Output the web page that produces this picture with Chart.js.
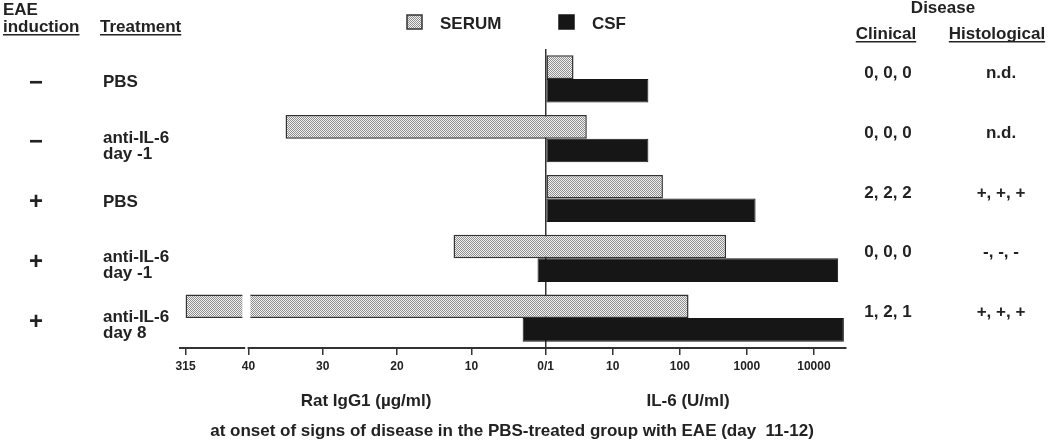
<!DOCTYPE html>
<html>
<head>
<meta charset="utf-8">
<script src="https://cdn.jsdelivr.net/npm/chart.js"></script>
<style>
  html, body { margin: 0; padding: 0; background: #fff; }
  #wrap { width: 1052px; height: 443px; position: relative; }
</style>
</head>
<body>
<div id="wrap"><canvas id="eaeChart" width="1052" height="443"></canvas></div>
<script>
    // rows, top to bottom
    const groups = ['PBS', 'anti-IL-6 day -1', 'PBS', 'anti-IL-6 day -1', 'anti-IL-6 day 8'];
    const eaeInduction = ['\u2212', '\u2212', '+', '+', '+'];
    const treatmentLines = [['PBS'], ['anti-IL-6', 'day -1'], ['PBS'], ['anti-IL-6', 'day -1'], ['anti-IL-6', 'day 8']];
    const clinical = ['0, 0, 0', '0, 0, 0', '2, 2, 2', '0, 0, 0', '1, 2, 1'];
    const histological = ['n.d.', 'n.d.', '+, +, +', '-, -, -', '+, +, +'];

    // Rat IgG1 (ug/ml) to the left, IL-6 (U/ml) to the right
    const serumIgG1 = [0, 35, 0, 12.4, 315];
    const serumIL6 = [2.6, 4.1, 56, 490, 135];
    const csfIgG1 = [0, 0, 0, 1.1, 3.1];
    const csfIL6 = [34, 34, 1350, 23000, 28000];

    const igTicks = [315, 40, 30, 20, 10];
    const il6Ticks = [1, 10, 100, 1000, 10000];

    // left half is linear with a break above 40, right half is log10
    const BREAK = 40, BREAK_TOP = 315, BREAK_SPAN = 8.45, DECADE = 9.02;
    function igPos(v) {
        return -(v <= BREAK ? v : BREAK + (v - BREAK) * BREAK_SPAN / (BREAK_TOP - BREAK));
    }
    function ilPos(v) {
        return Math.log10(v) * DECADE;
    }

    const serumBars = groups.map((g, i) => [igPos(serumIgG1[i]), ilPos(serumIL6[i])]);
    const csfBars = groups.map((g, i) => [igPos(csfIgG1[i]), ilPos(csfIL6[i])]);

    const tickLabels = {};
    igTicks.forEach(v => { tickLabels[igPos(v).toFixed(3)] = String(v); });
    il6Ticks.forEach(v => { tickLabels[ilPos(v).toFixed(3)] = v === 1 ? '0/1' : String(v); });
    const tickValues = igTicks.map(igPos).concat(il6Ticks.map(ilPos));

    const FONT = "'Liberation Sans', Arial, Helvetica, sans-serif";
    const INK = '#222';

    function stipple(ctx) {
        const c = document.createElement('canvas');
        c.width = 2; c.height = 2;
        const g = c.getContext('2d');
        g.fillStyle = '#f2f2f2';
        g.fillRect(0, 0, 2, 2);
        g.fillStyle = '#8e8e8e';
        g.fillRect(0, 0, 1, 1);
        g.fillRect(1, 1, 1, 1);
        return ctx.createPattern(c, 'repeat');
    }

    function underline(ctx, text, x, y, align) {
        const w = ctx.measureText(text).width;
        const x0 = align === 'center' ? x - w / 2 : x;
        ctx.fillRect(x0, y, w, 1.5);
    }

    const tablePlugin = {
        id: 'tablePlugin',
        afterDraw(chart) {
            const ctx = chart.ctx;
            const xs = chart.scales.x;
            const ys = chart.scales.y;
            const area = chart.chartArea;
            ctx.save();

            // axis break
            const xb = xs.getPixelForValue(igPos(BREAK));
            ctx.fillStyle = '#fff';
            ctx.fillRect(xb - 6, area.top, 8, area.bottom - area.top - 2);
            ctx.fillRect(xb - 3.2, area.bottom - 2, 2.4, 4);

            ctx.fillStyle = INK;
            ctx.textBaseline = 'alphabetic';

            // headers
            ctx.font = 'bold 17px ' + FONT;
            ctx.textAlign = 'left';
            ctx.fillText('EAE', 3, 15);
            ctx.fillText('induction', 3, 32);
            underline(ctx, 'induction', 3, 34, 'left');
            ctx.fillText('Treatment', 100, 32);
            underline(ctx, 'Treatment', 100, 34, 'left');
            ctx.textAlign = 'center';
            ctx.fillText('Disease', 943, 13);
            ctx.fillText('Clinical', 886, 39);
            underline(ctx, 'Clinical', 886, 41, 'center');
            ctx.fillText('Histological', 997, 39);
            underline(ctx, 'Histological', 997, 41, 'center');

            // legend
            chart.data.datasets.forEach((ds, i) => {
                const bx = [407, 559][i], tx = [440, 592][i];
                ctx.fillStyle = ds.backgroundColor;
                ctx.fillRect(bx, 15, 15, 14);
                ctx.strokeStyle = ds.borderColor;
                ctx.lineWidth = 1.5;
                ctx.strokeRect(bx, 15, 15, 14);
                ctx.fillStyle = INK;
                ctx.textAlign = 'left';
                ctx.fillText(ds.label, tx, 29);
            });

            // rows
            groups.forEach((g, i) => {
                const y = ys.getPixelForValue(i);
                ctx.fillStyle = INK;
                ctx.textAlign = 'center';
                ctx.font = 'bold 24px ' + FONT;
                ctx.textBaseline = 'middle';
                ctx.fillText(eaeInduction[i], 36, y + 4);
                ctx.textBaseline = 'alphabetic';
                ctx.font = 'bold 17px ' + FONT;
                ctx.textAlign = 'left';
                const lines = treatmentLines[i];
                if (lines.length === 1) {
                    ctx.fillText(lines[0], 103, y + 8);
                } else {
                    ctx.fillText(lines[0], 103, y + 4);
                    ctx.fillText(lines[1], 103, y + 20);
                }
                ctx.textAlign = 'center';
                ctx.fillText(clinical[i], 888, y - 1);
                ctx.fillText(histological[i], 1001, y - 1);
            });

            // axis titles and note
            ctx.textAlign = 'center';
            ctx.fillText('Rat IgG1 (\u00b5g/ml)', 366, 406);
            ctx.fillText('IL-6 (U/ml)', 688, 406);
            ctx.fillText('at onset of signs of disease in the PBS-treated group with EAE (day  11-12)', 512, 436);
            ctx.restore();
        }
    };

    const ctx = document.getElementById('eaeChart').getContext('2d');
    const serumFill = stipple(ctx);

    const eaeChart = new Chart(ctx, {
        type: 'bar',
        data: {
            labels: groups,
            datasets: [{
                label: 'SERUM',
                data: serumBars,
                backgroundColor: serumFill,
                borderColor: '#333',
                borderWidth: 1.5,
                borderSkipped: false,
                categoryPercentage: 0.79,
                barPercentage: 1
            }, {
                label: 'CSF',
                data: csfBars,
                backgroundColor: '#161616',
                borderColor: '#161616',
                borderWidth: 1,
                borderSkipped: false,
                categoryPercentage: 0.79,
                barPercentage: 1
            }]
        },
        options: {
            indexAxis: 'y',
            responsive: false,
            animation: false,
            layout: { padding: { left: 180, right: 206, top: 49, bottom: 70 } },
            plugins: {
                legend: { display: false },
                tooltip: { enabled: false }
            },
            scales: {
                y: { display: false },
                x: {
                    type: 'linear',
                    min: -49.2,
                    max: 40.4,
                    z: 1,
                    afterBuildTicks: s => { s.ticks = tickValues.map(v => ({ value: v })); },
                    afterFit: s => { s.height = 25; },
                    ticks: {
                        autoSkip: false,
                        maxRotation: 0,
                        padding: 4,
                        color: INK,
                        font: { family: FONT, size: 12, weight: 'bold' },
                        callback: v => tickLabels[Number(v).toFixed(3)] || ''
                    },
                    grid: {
                        color: c => (c.tick && Math.abs(c.tick.value) < 1e-9) ? '#333' : 'rgba(0,0,0,0)',
                        tickColor: '#333',
                        lineWidth: 1.5,
                        tickLength: 7
                    },
                    border: { color: '#333', width: 2 }
                }
            }
        },
        plugins: [tablePlugin]
    });
</script>
</body>
</html>
